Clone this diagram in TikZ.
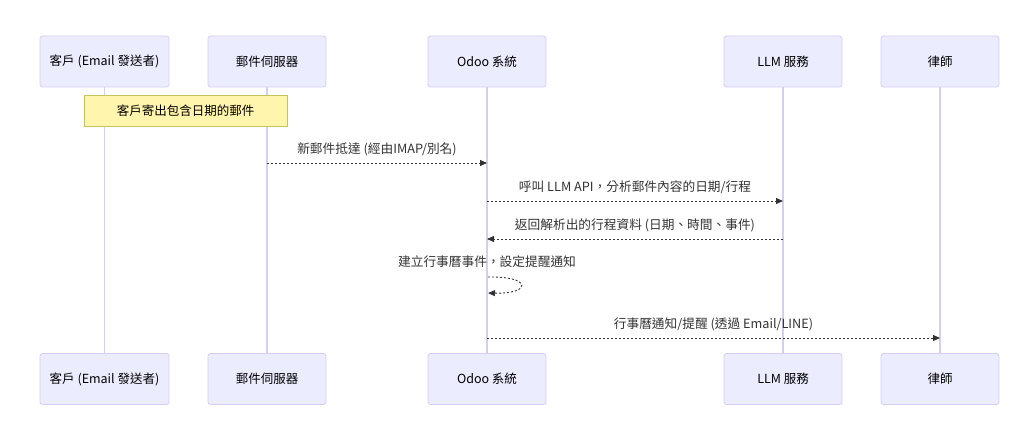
\documentclass[tikz,border=0pt]{standalone}
\usepackage{fontspec}
\setmainfont{Noto Sans CJK TC}
\usetikzlibrary{positioning,arrows.meta}
\definecolor{actfill}{HTML}{ECECFF}
\definecolor{actline}{HTML}{D6CDF3}
\definecolor{notefill}{HTML}{FFF5AD}
\definecolor{noteline}{HTML}{C8C25A}
\definecolor{txt}{HTML}{333333}
\tikzset{
  actor/.style={draw=actline, fill=actfill, line width=0.8pt, rounded corners=2.5pt,
    minimum width=118pt, minimum height=51pt, text=black,
    font=\fontsize{12.5}{15}\selectfont},
  life/.style={draw=actline, line width=1.3pt},
  note/.style={draw=noteline, fill=notefill, line width=0.8pt,
    minimum width=203pt, minimum height=31pt, text=black,
    font=\fontsize{12.5}{15}\selectfont},
  msg/.style={draw=txt, line width=0.9pt, dash pattern=on 2pt off 2pt,
    -{Triangle[length=7pt,width=6pt]}},
  lbl/.style={text=txt, font=\fontsize{12.7}{15}\selectfont}
}

\begin{document}
\begin{tikzpicture}[x=1pt,y=-1pt]
\useasboundingbox[fill=white] (0,0) rectangle (1024,447);
% actors
\node[actor, minimum width=129pt] (cli) at (104.5,61.5) {客戶 (Email 發送者)};
\node[actor] (mail) at (267,61.5) {郵件伺服器};
\node[actor] (odoo) at (487,61.5) {Odoo 系統};
\node[actor] (llm) at (783,61.5) {LLM 服務};
\node[actor] (law) at (940,61.5) {律師};
\node[actor, minimum width=129pt] (cli b) at (104.5,379) {客戶 (Email 發送者)};
\node[actor] (mail b) at (267,379) {郵件伺服器};
\node[actor] (odoo b) at (487,379) {Odoo 系統};
\node[actor] (llm b) at (783,379) {LLM 服務};
\node[actor] (law b) at (940,379) {律師};
% lifelines
\foreach \a in {cli,mail,odoo,llm,law}
  \draw[life] (\a.south) -- (\a\space b.north);
% note
\node[note] (sendnote) at (185.5,110.5) {客戶寄出包含日期的郵件};
% messages
\coordinate (m1s) at (267,163);
\coordinate (m1e) at (487,163);
\draw[msg] (m1s) -- node[lbl, midway, above=3pt] {新郵件抵達 (經由IMAP/別名)} (m1e);
\coordinate (m2s) at (487,201);
\coordinate (m2e) at (783,201);
\draw[msg] (m2s) -- node[lbl, midway, above=3pt] {呼叫 LLM API，分析郵件內容的日期/行程} (m2e);
\coordinate (m3s) at (783,239);
\coordinate (m3e) at (487,239);
\draw[msg] (m3s) -- node[lbl, midway, above=3pt] {返回解析出的行程資料 (日期、時間、事件)} (m3e);
\coordinate (m4s) at (488,277);
\coordinate (m4e) at (488,293);
\node[lbl] (m4t) at (487,262) {建立行事曆事件，設定提醒通知};
\draw[msg] (m4s) .. controls (532,276) and (532,294) .. (m4e);
\coordinate (m5s) at (487,338);
\coordinate (m5e) at (940,338);
\draw[msg] (m5s) -- node[lbl, midway, above=3pt] {行事曆通知/提醒 (透過 Email/LINE)} (m5e);
\end{tikzpicture}
\end{document}
